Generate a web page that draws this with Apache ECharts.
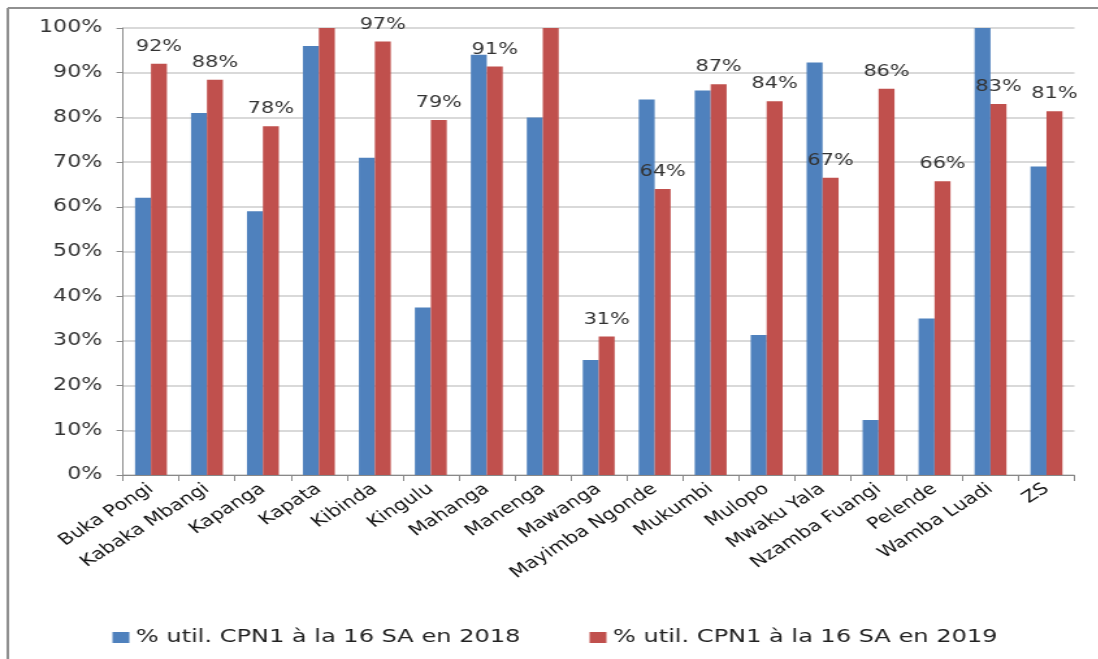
<!DOCTYPE html>
<html>
<head>
<meta charset="utf-8">
<script src="https://cdn.jsdelivr.net/npm/echarts@6/dist/echarts.min.js"></script>
<style>
html,body{margin:0;padding:0;background:#fff;overflow:hidden}
#wrap{width:1098px;height:659px;overflow:hidden}
#c{width:845px;height:659px;transform:scaleX(1.3);transform-origin:0 0}
</style>
</head>
<body>
<div id="wrap"><div id="c"></div></div>
<script>
const categories = ["Buka Pongi","Kabaka Mbangi","Kapanga","Kapata","Kibinda","Kingulu","Mahanga","Manenga","Mawanga","Mayimba Ngonde","Mukumbi","Mulopo","Mwaku Yala","Nzamba Fuangi","Pelende","Wamba Luadi","ZS"];
const series2018 = [62, 81, 59, 96, 71, 37.5, 94, 80, 25.7, 84, 86, 31.3, 92.3, 12.3, 35, 100, 69];
const series2019 = [92, 88.4, 78, 100, 97, 79.4, 91.4, 100, 31, 64, 87.4, 83.6, 66.5, 86.4, 65.7, 83, 81.4];
const yTicks = [0, 10, 20, 30, 40, 50, 60, 70, 80, 90, 100];
const name2018 = "% util. CPN1 à la 16 SA en 2018";
const name2019 = "% util. CPN1 à la 16 SA en 2019";

const chart = echarts.init(document.getElementById('c'));
const redData = series2019.map(v => v >= 100 ? {value: v, label: {show: false}} : v);
chart.setOption({
  animation: false,
  graphic: [
    {type: 'line', shape: {x1: 6, y1: 8, x2: 845, y2: 8}, style: {stroke: '#909090', lineWidth: 2}},
    {type: 'line', shape: {x1: 6, y1: 8, x2: 6, y2: 659}, style: {stroke: '#909090', lineWidth: 2}}
  ],
  grid: {left: 94.6, right: 18.5, top: 28, bottom: 184, containLabel: false},
  legend: [
    {data: [name2018], left: 81.5, top: 623, itemWidth: 13, itemHeight: 11, icon: 'rect', itemGap: 6,
     textStyle: {fontFamily: 'DejaVu Sans', fontSize: 18.5, color: '#222'}},
    {data: [name2019], left: 448.5, top: 623, itemWidth: 13, itemHeight: 11, icon: 'rect', itemGap: 6,
     textStyle: {fontFamily: 'DejaVu Sans', fontSize: 18.5, color: '#222'}}
  ],
  xAxis: {
    type: 'category', data: categories,
    axisLine: {lineStyle: {color: '#888', width: 1}},
    axisTick: {show: true, length: 6, lineStyle: {color: '#888'}},
    axisLabel: {rotate: 39, interval: 0, margin: 12, fontFamily: 'DejaVu Sans', fontSize: 16, color: '#111'}
  },
  yAxis: {
    type: 'value', min: 0, max: 100, interval: 10,
    axisLine: {show: true, lineStyle: {color: '#888', width: 1}},
    axisTick: {show: true, length: 5, lineStyle: {color: '#888'}},
    splitLine: {lineStyle: {color: '#d9d9d9', width: 2}},
    axisLabel: {margin: 16, fontFamily: 'DejaVu Sans', fontSize: 17, color: '#333',
      formatter: v => yTicks.includes(v) ? v + '%' : ''}
  },
  series: [
    {name: name2018, type: 'bar', data: series2018, barGap: '0%', barCategoryGap: '43%',
     itemStyle: {color: '#4F81BD'}},
    {name: name2019, type: 'bar', data: redData, barGap: '0%', barCategoryGap: '43%',
     itemStyle: {color: '#C0504D'},
     label: {show: true, position: 'top', distance: 9, fontFamily: 'DejaVu Sans', fontSize: 16, color: '#333',
       formatter: p => Math.round(p.value) + '%'}}
  ]
});
</script>
</body>
</html>
